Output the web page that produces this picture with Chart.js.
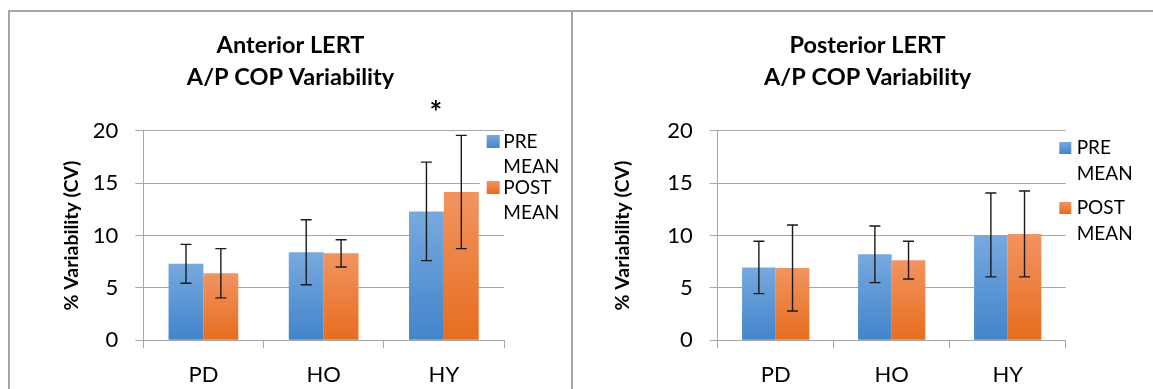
<!DOCTYPE html>
<html><head><meta charset="utf-8">
<script src="https://cdn.jsdelivr.net/npm/chart.js@4.4.0/dist/chart.umd.min.js"></script>
<style>
html,body{margin:0;padding:0;background:#fff;width:1153px;height:389px;overflow:hidden;}
.box1{position:absolute;left:8px;top:10px;width:561px;height:400px;border:2px solid #a5a5a5;border-bottom:none;}
.box2{position:absolute;left:571px;top:10px;width:620px;height:400px;border-top:2px solid #a5a5a5;}
canvas{position:absolute;top:12px;}
#c1{left:10px;}
#c2{left:573px;}
</style></head>
<body>
<div class="box1"></div><div class="box2"></div>
<canvas id="c1" width="561" height="377"></canvas>
<canvas id="c2" width="580" height="377"></canvas>
<script>
// ---- data ----
const categories = ['PD', 'HO', 'HY'];
const seriesLabels = ['PRE MEAN', 'POST MEAN'];
const yTicks = [0, 5, 10, 15, 20];
const antTitle = ['Anterior LERT', 'A/P COP Variability'];
const postTitle = ['Posterior LERT', 'A/P COP Variability'];
const yTitle = '% Variability (CV)';
const antPre = [7.3, 8.4, 12.3];
const antPreErr = [1.85, 3.1, 4.7];
const antPost = [6.4, 8.3, 14.15];
const antPostErr = [2.35, 1.3, 5.4];
const postPre = [6.95, 8.2, 10.05];
const postPreErr = [2.5, 2.7, 4.0];
const postPost = [6.9, 7.65, 10.15];
const postPostErr = [4.1, 1.8, 4.1];
const antSig = ['', '', '*'];
const postSig = ['', '', ''];

const FONT = 'Lato, "Open Sans", sans-serif';
Chart.defaults.font.family = FONT;
Chart.defaults.color = '#000';

function grad(top, bottom) {
  return (ctx) => {
    const chart = ctx.chart;
    const ca = chart.chartArea;
    if (!ca || ctx.type !== 'data') return bottom;
    const y = chart.scales.y;
    const y0 = y.getPixelForValue(ctx.raw), y1 = y.getPixelForValue(0);
    if (!isFinite(y0) || !isFinite(y1) || y0 === y1) return bottom;
    const g = chart.ctx.createLinearGradient(0, y0, 0, y1);
    g.addColorStop(0, top); g.addColorStop(1, bottom);
    return g;
  };
}

const errorBars = {
  id: 'errorBars',
  afterDatasetsDraw(chart, args, opts) {
    const {ctx} = chart; const y = chart.scales.y;
    ctx.save();
    ctx.strokeStyle = opts.color; ctx.lineWidth = opts.width;
    chart.data.datasets.forEach((ds, di) => {
      const meta = chart.getDatasetMeta(di);
      meta.data.forEach((bar, i) => {
        const v = ds.data[i], e = ds.errors[i];
        const yt = y.getPixelForValue(v + e), yb = y.getPixelForValue(v - e);
        const x = bar.x, c = opts.cap;
        ctx.beginPath();
        ctx.moveTo(x, yt); ctx.lineTo(x, yb);
        ctx.moveTo(x - c, yt); ctx.lineTo(x + c, yt);
        ctx.moveTo(x - c, yb); ctx.lineTo(x + c, yb);
        ctx.stroke();
      });
    });
    ctx.restore();
  }
};

const sigMarks = {
  id: 'sigMarks',
  afterDraw(chart, args, opts) {
    const marks = opts.marks || [];
    const {ctx, chartArea} = chart; const x = chart.scales.x;
    ctx.save();
    ctx.font = 'bold ' + opts.size + 'px ' + FONT;
    ctx.fillStyle = '#000'; ctx.textAlign = 'center'; ctx.textBaseline = 'alphabetic';
    marks.forEach((m, i) => {
      if (!m) return;
      ctx.fillText(m, x.getPixelForValue(i) + opts.dx, chartArea.top + opts.dy);
    });
    ctx.restore();
  }
};

const boxLegend = {
  id: 'boxLegend',
  afterDraw(chart, args, o) {
    const {ctx, chartArea} = chart;
    ctx.save();
    ctx.font = o.size + 'px ' + FONT;
    ctx.textBaseline = 'alphabetic'; ctx.textAlign = 'left';
    let base = chartArea.top + o.first;
    chart.data.datasets.forEach((ds) => {
      const lines = ds.label.split(' ');
      const bx = chartArea.right + o.boxX, tx = chartArea.right + o.textX;
      if (o.bg) {
        ctx.fillStyle = '#fff';
        const w = Math.max(...lines.map(l => ctx.measureText(l).width));
        ctx.fillRect(bx - 7, base - o.size * 0.72 - 3, tx - bx + w + 10, o.size * 0.72 + 6);
      }
      const g = ctx.createLinearGradient(0, base - o.box, 0, base);
      g.addColorStop(0, ds.legendTop); g.addColorStop(1, ds.legendBottom);
      ctx.fillStyle = g;
      ctx.fillRect(bx, base - o.box, o.box, o.box);
      ctx.fillStyle = '#000';
      lines.forEach((l, li) => ctx.fillText(l, tx, base + li * o.lineGap));
      base += o.itemGap;
    });
    ctx.restore();
  }
};

function makeChart(id, title, pre, preErr, post, postErr, sig, L) {
  return new Chart(document.getElementById(id), {
    type: 'bar',
    data: {
      labels: categories,
      datasets: [
        {label: seriesLabels[0], data: pre, errors: preErr,
         backgroundColor: grad('#77a9de', '#4284cb'), legendTop: '#77a9de', legendBottom: '#4284cb'},
        {label: seriesLabels[1], data: post, errors: postErr,
         backgroundColor: grad('#f29460', '#e66d1f'), legendTop: '#f29460', legendBottom: '#e66d1f'}
      ]
    },
    options: {
      responsive: false, animation: false,
      layout: {padding: {left: L.padLeft, right: 0, top: 0, bottom: 0}},
      datasets: {bar: {categoryPercentage: 0.58, barPercentage: 1.0}},
      plugins: {
        legend: {display: false},
        tooltip: {enabled: false},
        title: {display: true, text: title, color: '#000',
                font: {size: 23.5, weight: 'bold', lineHeight: 32 / 23.5},
                padding: {top: 17.5, bottom: 37.2}},
        errorBars: {color: '#1a1a1a', width: 1.4, cap: 5.5},
        sigMarks: {marks: sig, size: 30, dx: -8, dy: -8},
        boxLegend: L.legend
      },
      scales: {
        x: {
          grid: {offset: true, drawOnChartArea: false, tickLength: 8, color: '#a6a6a6'},
          border: {color: '#a6a6a6'},
          ticks: {padding: 13, font: {size: 22}, color: '#000'},
          afterFit(s) { s.height = 48.7; }
        },
        y: {
          min: 0, max: 20,
          afterBuildTicks(s) { s.ticks = yTicks.map(v => ({value: v})); },
          grid: {color: '#a6a6a6', tickLength: 8},
          border: {color: '#a6a6a6'},
          ticks: {padding: 17, font: {size: 22}, color: '#000'},
          title: {display: true, text: yTitle, color: '#000', font: {size: 19.5, weight: 'bold'},
                  padding: {top: L.yTitlePad, bottom: 0}},
          afterFit(s) { s.width = L.yWidth; }
        },
        yr: {
          position: 'right', display: true,
          grid: {display: false}, border: {display: false}, ticks: {display: false},
          afterFit(s) { s.width = L.rightWidth; }
        }
      }
    },
    plugins: [errorBars, sigMarks, boxLegend]
  });
}

makeChart('c1', antTitle, antPre, antPreErr, antPost, antPostErr, antSig, {
  padLeft: 0, yWidth: 133.3, rightWidth: 67, yTitlePad: 50,
  legend: {size: 19, box: 13, boxX: -17.3, textX: -0.7, first: 17.3, lineGap: 24.5, itemGap: 46, bg: true}
});
makeChart('c2', postTitle, postPre, postPreErr, postPost, postPostErr, postSig, {
  padLeft: 9.2, yWidth: 135.5, rightWidth: 87.3, yTitlePad: 29.1,
  legend: {size: 19, box: 12, boxX: -6.4, textX: 11, first: 23.3, lineGap: 26, itemGap: 60, bg: false}
});
</script>
</body></html>
